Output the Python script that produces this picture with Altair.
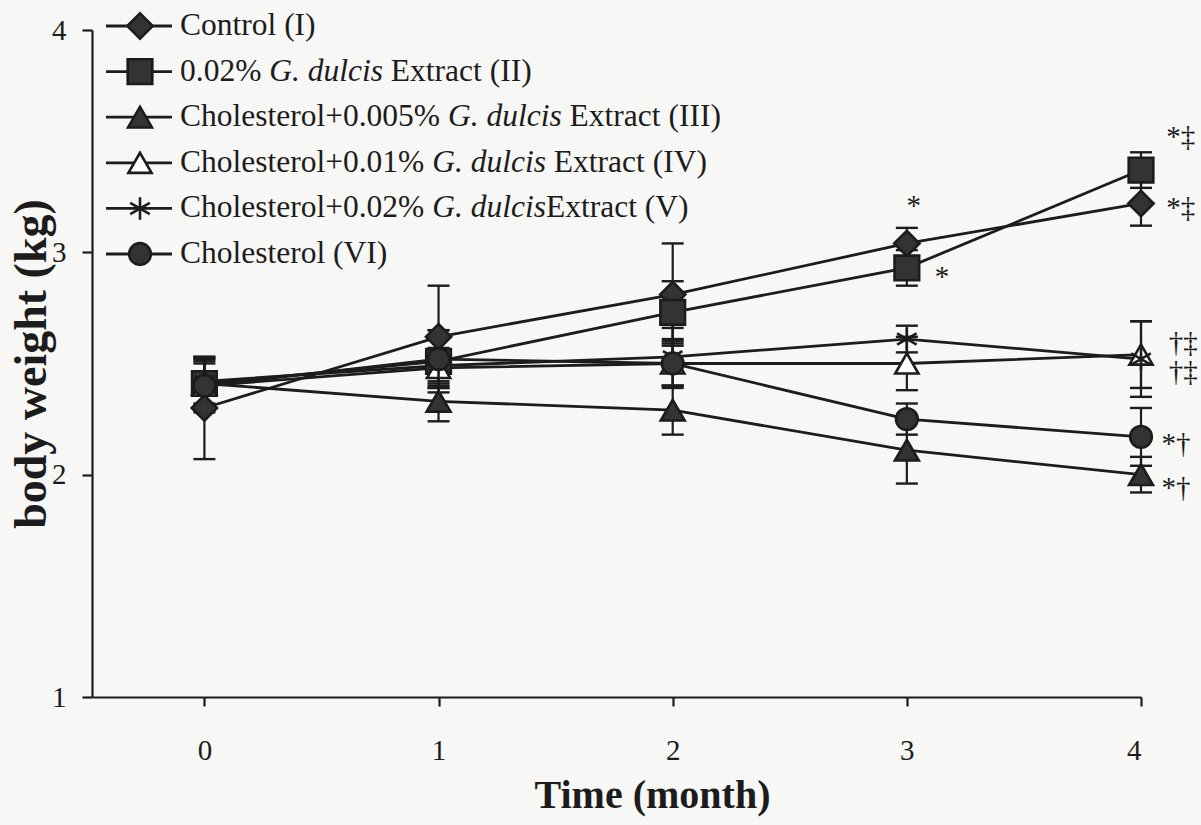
import altair as alt
import pandas as pd

# ---------------- data ----------------
months = [0, 1, 2, 3, 4]
series_ids = ["I", "II", "III", "IV", "V", "VI"]

mean_I   = [2.30, 2.62, 2.81, 3.04, 3.22]
mean_II  = [2.41, 2.51, 2.73, 2.93, 3.37]
mean_III = [2.41, 2.33, 2.29, 2.11, 2.00]
mean_IV  = [2.40, 2.48, 2.50, 2.50, 2.54]
mean_V   = [2.42, 2.49, 2.53, 2.61, 2.52]
mean_VI  = [2.40, 2.52, 2.50, 2.25, 2.17]

sd_I   = [0.23, 0.23, 0.23, 0.07, 0.10]
sd_II  = [0.12, 0.14, 0.14, 0.08, 0.08]
sd_III = [0.10, 0.09, 0.11, 0.15, 0.08]
sd_IV  = [0.10, 0.08, 0.11, 0.12, 0.15]
sd_V   = [0.10, 0.08, 0.13, 0.06, 0.17]
sd_VI  = [0.12, 0.13, 0.10, 0.07, 0.13]

# legend text: regular part, italic part, regular part
leg_pre = ["Control (I)", "0.02% ", "Cholesterol+0.005% ", "Cholesterol+0.01% ",
           "Cholesterol+0.02% ", "Cholesterol (VI)"]
leg_ital = ["", "G. dulcis", "G. dulcis", "G. dulcis", "G. dulcis", ""]
leg_post = ["", " Extract (II)", " Extract (III)", " Extract (IV)", "Extract (V)", ""]

# significance marks
ann_text = ["*", "*", "*\u2021", "*\u2021", "\u2020\u2021", "\u2020\u2021", "*\u2020", "*\u2020"]
ann_x = [3.03, 3.15, 4.17, 4.17, 4.18, 4.18, 4.15, 4.15]
ann_y = [3.21, 2.89, 3.52, 3.20, 2.59, 2.46, 2.14, 1.94]

x_ticks = [0, 1, 2, 3, 4]
y_ticks = [1, 2, 3, 4]

# ---------------- tables ----------------
means = [mean_I, mean_II, mean_III, mean_IV, mean_V, mean_VI]
sds = [sd_I, sd_II, sd_III, sd_IV, sd_V, sd_VI]
rows = []
for sid, m, s in zip(series_ids, means, sds):
    for t, v, e in zip(months, m, s):
        rows.append({"series": sid, "month": t, "bw": v, "lo": v - e, "hi": v + e})
df = pd.DataFrame(rows)

ann = pd.DataFrame({"t": ann_text, "x": ann_x, "y": ann_y})

FONT = "Liberation Serif"
INK = "#1c1c1c"
DARK = "#333333"
ASTER = "M0,-1L0,1M-0.87,-0.5L0.87,0.5M-0.87,0.5L0.87,-0.5"

shape_scale = alt.Scale(domain=series_ids,
                        range=["diamond", "square", "triangle-up", "triangle-up", ASTER, "circle"])
fill_scale = alt.Scale(domain=series_ids,
                       range=[DARK, DARK, DARK, "#ffffff", DARK, DARK])
size_scale = alt.Scale(domain=series_ids, range=[640, 470, 560, 560, 620, 560])

W, H = 1049, 667
xs = alt.Scale(domain=[-0.48, 4], nice=False, zero=False)
ys = alt.Scale(domain=[1, 4], nice=False, zero=False)

X = alt.X("month:Q", scale=xs,
          axis=alt.Axis(values=x_ticks, title="Time (month)", grid=False, format="d",
                        tickSize=9, labelPadding=30, titlePadding=10, titleFontSize=40,
                        titleX=560, titleAlign="center"))
Y = alt.Y("bw:Q", scale=ys,
          axis=alt.Axis(values=y_ticks, title="body weight (kg)", grid=False, format="d",
                        tickSize=10, labelPadding=16, titlePadding=-4, titleFontSize=46))

base = alt.Chart(df)

err_rule = base.mark_rule(color=INK, strokeWidth=2.2).encode(
    x=X, y=alt.Y("lo:Q", scale=ys), y2="hi:Q", detail="series:N")
cap_lo = base.mark_point(shape="M-1,0L1,0", size=484, stroke=INK, strokeWidth=2.4,
                         filled=False, opacity=1).encode(x=X, y=alt.Y("lo:Q", scale=ys))
cap_hi = base.mark_point(shape="M-1,0L1,0", size=484, stroke=INK, strokeWidth=2.4,
                         filled=False, opacity=1).encode(x=X, y=alt.Y("hi:Q", scale=ys))

lines = base.mark_line(color=INK, strokeWidth=2.8).encode(
    x=X, y=Y, detail="series:N", order="month:Q")

pts = base.mark_point(filled=True, opacity=1, strokeWidth=2.6).encode(
    x=X, y=Y,
    shape=alt.Shape("series:N", scale=shape_scale, legend=None),
    fill=alt.Fill("series:N", scale=fill_scale, legend=None),
    size=alt.Size("series:N", scale=size_scale, legend=None),
    stroke=alt.value(INK))

anns = alt.Chart(ann).mark_text(font=FONT, fontSize=29, color=INK, align="center",
                                baseline="middle").encode(
    x=alt.X("x:Q", scale=xs), y=alt.Y("y:Q", scale=ys), text="t:N")

# ---------------- hand-made legend (pixel layout inside the plot) ----------------
REG = {" ": 250, "%": 833, "(": 333, ")": 333, "+": 564, ".": 250, "C": 667, "E": 611,
       "I": 333, "V": 722, "a": 444, "c": 444, "e": 444, "h": 500, "l": 278, "n": 500,
       "o": 500, "r": 333, "s": 389, "t": 278, "x": 500}
ITA = {"G": 722, ".": 250, " ": 250, "d": 500, "u": 500, "l": 278, "c": 444, "i": 278, "s": 389}
LF = 31.5


def tw(s, table):
    return sum(table.get(ch, 500) for ch in s) / 1000.0 * LF


leg_rows = []
for i, sid in enumerate(series_ids):
    yp = 26 - 30 + i * 45.6  # relative to plot top (plot top at 30 px)
    x0 = 180 - 92
    post = leg_post[i]
    lead = post[: len(post) - len(post.lstrip())]
    ix = x0 + tw(leg_pre[i], REG)
    sx = ix + tw(leg_ital[i], ITA) + tw(lead, REG)
    leg_rows.append({"series": sid, "py": yp, "lx1": 106 - 92, "lx2": 172 - 92, "mx": 140 - 92,
                     "tx": x0, "ix": ix, "sx": sx,
                     "pre": leg_pre[i].rstrip(), "ital": leg_ital[i], "post": post.lstrip()})
leg = pd.DataFrame(leg_rows)
lb = alt.Chart(leg)
PY = alt.Y("py:Q", scale=None, axis=None)

leg_line = lb.mark_rule(color=INK, strokeWidth=2.8).encode(
    x=alt.X("lx1:Q", scale=None, axis=None), x2="lx2:Q", y=PY)
leg_pt = lb.mark_point(filled=True, opacity=1, strokeWidth=2.6).encode(
    x=alt.X("mx:Q", scale=None, axis=None), y=PY,
    shape=alt.Shape("series:N", scale=shape_scale, legend=None),
    fill=alt.Fill("series:N", scale=fill_scale, legend=None),
    size=alt.Size("series:N", scale=size_scale, legend=None),
    stroke=alt.value(INK))
leg_t1 = lb.mark_text(font=FONT, fontSize=LF, color=INK, align="left", baseline="middle").encode(
    x=alt.X("tx:Q", scale=None, axis=None), y=PY, text="pre:N")
leg_t2 = lb.mark_text(font=FONT, fontSize=LF, color=INK, align="left", baseline="middle",
                      fontStyle="italic").encode(
    x=alt.X("ix:Q", scale=None, axis=None), y=PY, text="ital:N")
leg_t3 = lb.mark_text(font=FONT, fontSize=LF, color=INK, align="left", baseline="middle").encode(
    x=alt.X("sx:Q", scale=None, axis=None), y=PY, text="post:N")

chart = alt.layer(
    err_rule, cap_lo, cap_hi, lines, pts, anns,
    leg_line, leg_pt, leg_t1, leg_t2, leg_t3
).properties(
    width=W, height=H,
    autosize=alt.AutoSizeParams(type="none"),
    padding={"left": 92, "top": 30, "right": 60, "bottom": 128},
    background="#f7f7f5",
).configure_view(stroke=None).configure_axis(
    domainColor=INK, domainWidth=2.2, tickColor=INK, tickWidth=2.2,
    labelFont=FONT, labelFontSize=29, labelColor=INK,
    titleFont=FONT, titleFontWeight="bold", titleColor=INK,
).configure_axisY(labelAlign="right")

chart.save("out.html", embed_options={"renderer": "svg", "actions": False})
